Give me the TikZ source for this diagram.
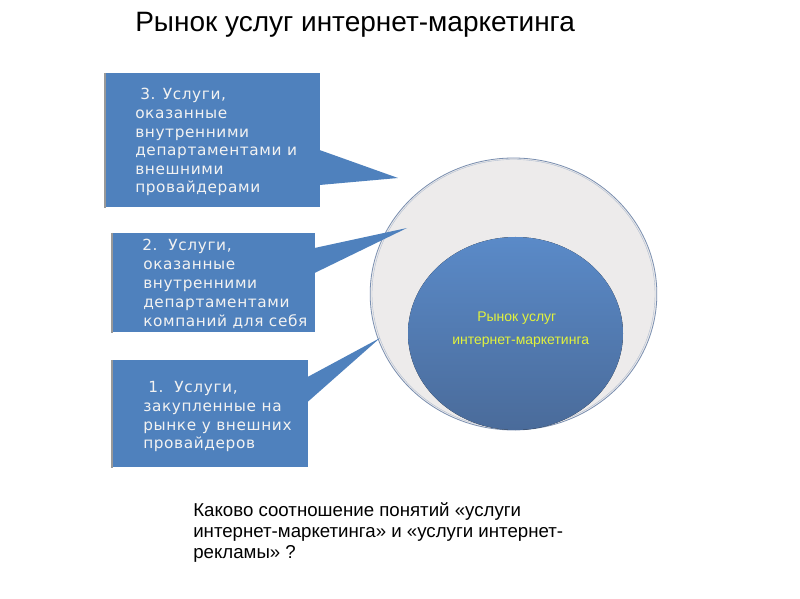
\documentclass[tikz,border=0pt]{standalone}
\usepackage{fontspec}
\setmainfont{Liberation Sans}
\newfontfamily\boxfont[LetterSpace=4]{DejaVu Sans}
\usetikzlibrary{calc,shapes.geometric}
\definecolor{boxblue}{HTML}{4F81BD}
\definecolor{outerfill}{HTML}{EDEBEB}
\definecolor{outerline}{HTML}{7A8FB0}
\definecolor{innertop}{HTML}{5A8AC8}
\definecolor{innerbot}{HTML}{4A6B9A}
\definecolor{innertext}{HTML}{E2F23C}
\definecolor{boxtext}{HTML}{F2F2F2}
\tikzset{
  callbox/.style={fill=boxblue, draw=none, anchor=north west, inner sep=0pt},
  bt/.style={font=\boxfont\fontsize{11.5}{13}\selectfont, text=boxtext, anchor=base west, inner sep=0pt},
  it/.style={font=\fontsize{10.5}{12}\selectfont, text=innertext, anchor=base west, inner sep=0pt},
  qt/.style={font=\fontsize{14}{16}\selectfont, anchor=base west, inner sep=0pt},
}
\begin{document}
\begin{tikzpicture}[x=0.75pt,y=-0.75pt]
\useasboundingbox (0,0) rectangle (800,599);
\fill[white] (0,0) rectangle (800,599);
% title
\node[font=\fontsize{21}{24}\selectfont, anchor=base west, inner sep=0pt] (title) at (135,31.5) {Рынок услуг интернет-маркетинга};
% outer circle
\node[ellipse, minimum width=215pt, minimum height=204pt, fill=outerfill, draw=outerline, line width=0.6pt, inner sep=0pt] (outer) at (513.5,294) {};
\path[draw=outerline!60, line width=0.3pt] (outer.center) ellipse (141.5 and 134.5);
% inner ellipse
\fill[top color=innertop, bottom color=innerbot] (515.5,333.5) ellipse (107.5 and 96.5);
\coordinate (innerc) at (515.5,333.5);
\node[it] (in1) at (477,321) {Рынок услуг};
\node[it] (in2) at (452,344) {интернет-маркетинга};
% box 3
\node[callbox, minimum width=161.25pt, minimum height=100.5pt] (b3) at (105,73) {};
\coordinate (t3) at (398,178);
\fill[boxblue] ($(b3.north east)+(-1,77)$) -- (t3) -- ($(b3.north east)+(-1,112)$) -- cycle;
\draw[gray!80, line width=1.2pt] (b3.north west) -- (b3.south west);
\node[bt] (b3l1) at (140,100) {3. Услуги,};
\node[bt] (b3l2) at (135,119) {оказанные};
\node[bt] (b3l3) at (135,137.5) {внутренними};
\node[bt] (b3l4) at (135,156) {департаментами и};
\node[bt] (b3l5) at (135,174.5) {внешними};
\node[bt] (b3l6) at (135,193) {провайдерами};
% box 2
\node[callbox, minimum width=152.25pt, minimum height=74.25pt] (b2) at (112,233) {};
\coordinate (t2) at (407,228);
\fill[boxblue] ($(b2.north east)+(-1,15)$) -- (t2) -- ($(b2.north east)+(-1,40)$) -- cycle;
\draw[gray!80, line width=1.2pt] (b2.north west) -- (b2.south west);
\node[bt] (b2l1) at (142,251) {2.\ \ Услуги,};
\node[bt] (b2l2) at (143,269.5) {оказанные};
\node[bt] (b2l3) at (143,288) {внутренними};
\node[bt] (b2l4) at (143,307) {департаментами};
\node[bt] (b2l5) at (143,326) {компаний для себя};
% box 1
\node[callbox, minimum width=147pt, minimum height=80.25pt] (b1) at (112,360) {};
\coordinate (t1) at (380,338);
\fill[boxblue] ($(b1.north east)+(-1,17)$) -- (t1) -- ($(b1.north east)+(-1,42)$) -- cycle;
\draw[gray!80, line width=1.2pt] (b1.north west) -- (b1.south west);
\node[bt] (b1l1) at (148,392) {1.\ \ Услуги,};
\node[bt] (b1l2) at (143,411) {закупленные на};
\node[bt] (b1l3) at (143,430) {рынке у внешних};
\node[bt] (b1l4) at (143,448.5) {провайдеров};
% question
\node[qt] (q1) at (193,516) {Каково соотношение понятий «услуги};
\node[qt] (q2) at (193,537.5) {интернет-маркетинга» и «услуги интернет-};
\node[qt] (q3) at (193,558) {рекламы» ?};
\end{tikzpicture}
\end{document}
